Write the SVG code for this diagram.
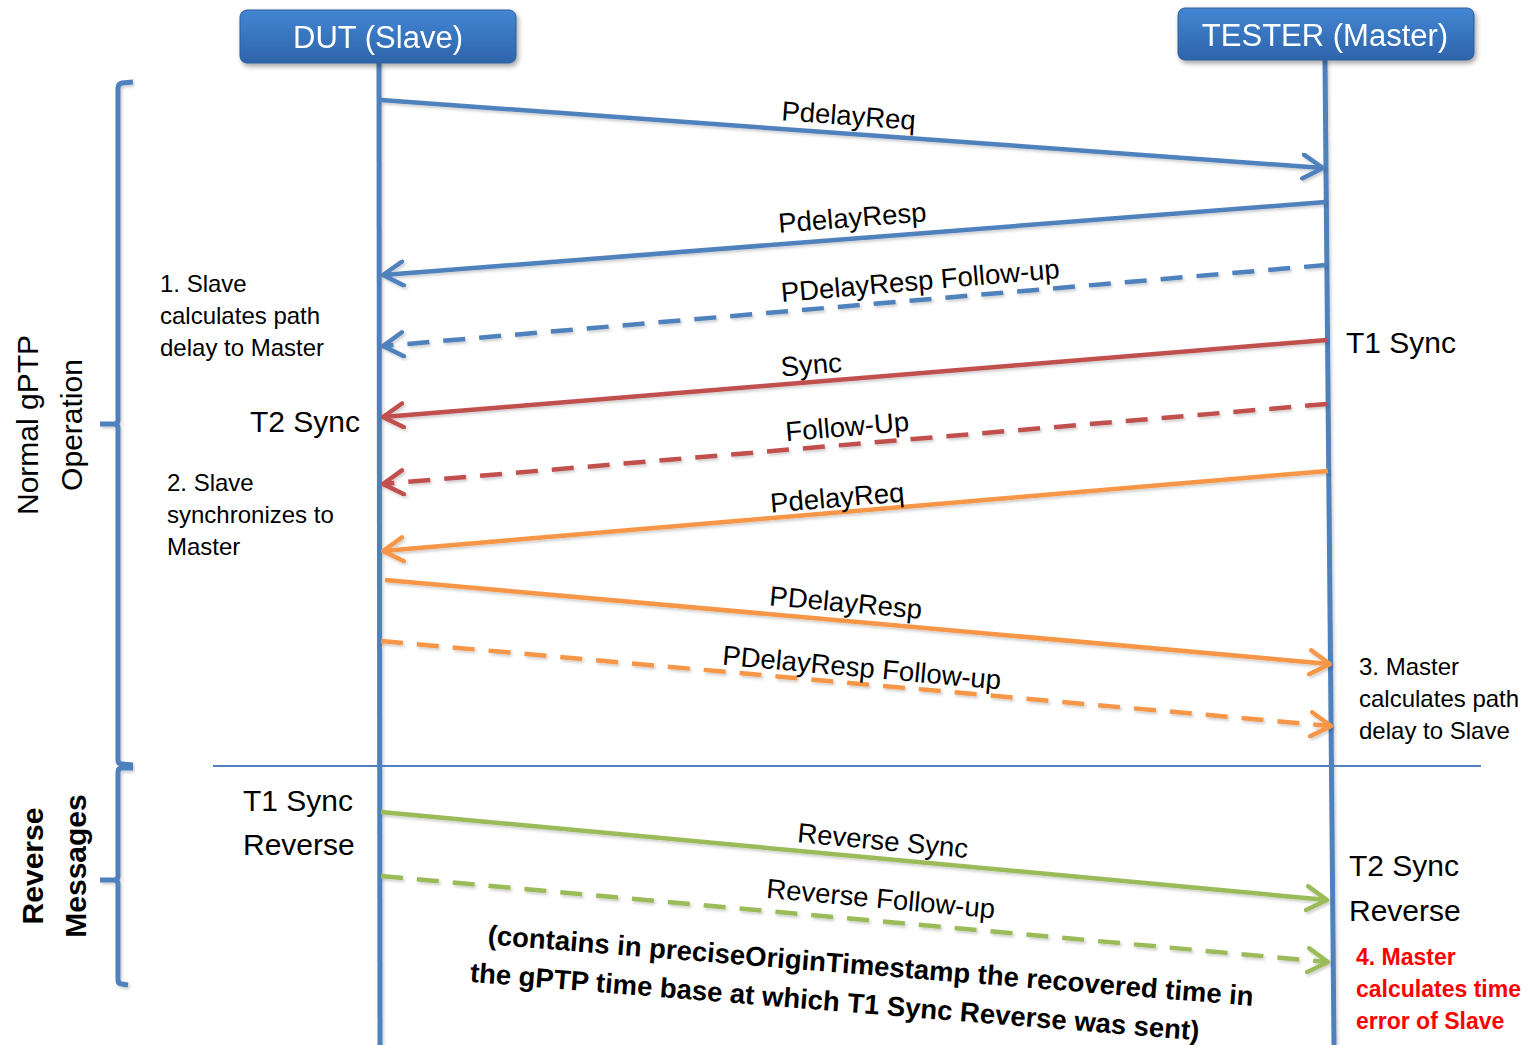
<svg xmlns="http://www.w3.org/2000/svg" width="1533" height="1045" viewBox="0 0 1533 1045">
<style>
.t{font-family:"Liberation Sans",Arial,sans-serif;fill:#000}
.hdr{font-family:"Liberation Sans",Arial,sans-serif;fill:#fff;font-size:31px;text-anchor:middle}
.lbl{font-size:27.5px;text-anchor:middle}
.note{font-size:24px}
.big{font-size:30px}
.life{stroke:#4F81BD;stroke-width:5;fill:none}
.brk{stroke:#4F81BD;stroke-width:5;fill:none;stroke-linejoin:round}
.m{stroke-width:4.5;fill:none}
.dash{stroke-dasharray:22 14}
.blue{stroke:#4F81BD}
.red{stroke:#C0504D}
.orange{stroke:#F79646}
.green{stroke:#9BBB59}
</style>
<defs>
<linearGradient id="hg" x1="0" y1="0" x2="0" y2="1">
<stop offset="0" stop-color="#4386D3"/>
<stop offset="1" stop-color="#2D64AA"/>
</linearGradient>
<filter id="sh" x="-10%" y="-20%" width="120%" height="160%">
<feDropShadow dx="2" dy="3" stdDeviation="2.5" flood-color="#000" flood-opacity="0.35"/>
</filter>
<filter id="ls" x="-5%" y="-50%" width="110%" height="200%">
<feDropShadow dx="1.5" dy="2" stdDeviation="1.5" flood-color="#000" flood-opacity="0.2"/>
</filter>
<marker id="ab" viewBox="0 0 12 14" refX="11" refY="7" markerWidth="24" markerHeight="28" markerUnits="userSpaceOnUse" orient="auto"><path d="M1,1 L11,7 L1,13" fill="none" stroke="#4F81BD" stroke-width="2.2" stroke-linecap="round" stroke-linejoin="round"/></marker>
<marker id="ar" viewBox="0 0 12 14" refX="11" refY="7" markerWidth="24" markerHeight="28" markerUnits="userSpaceOnUse" orient="auto"><path d="M1,1 L11,7 L1,13" fill="none" stroke="#C0504D" stroke-width="2.2" stroke-linecap="round" stroke-linejoin="round"/></marker>
<marker id="ao" viewBox="0 0 12 14" refX="11" refY="7" markerWidth="24" markerHeight="28" markerUnits="userSpaceOnUse" orient="auto"><path d="M1,1 L11,7 L1,13" fill="none" stroke="#F79646" stroke-width="2.2" stroke-linecap="round" stroke-linejoin="round"/></marker>
<marker id="ag" viewBox="0 0 12 14" refX="11" refY="7" markerWidth="24" markerHeight="28" markerUnits="userSpaceOnUse" orient="auto"><path d="M1,1 L11,7 L1,13" fill="none" stroke="#9BBB59" stroke-width="2.2" stroke-linecap="round" stroke-linejoin="round"/></marker>
</defs>
<rect width="1533" height="1045" fill="#fff"/>

<g id="lifelines" filter="url(#ls)">
<line class="life" x1="379" y1="62" x2="380" y2="1045"/>
<line class="life" x1="1325" y1="60" x2="1334" y2="1045"/>
</g>

<g id="dut" filter="url(#sh)">
<rect x="240" y="10" width="276" height="53" rx="7" fill="url(#hg)" stroke="#2E5C96" stroke-width="1"/>
<text class="hdr" x="378" y="48">DUT (Slave)</text>
</g>
<g id="tester" filter="url(#sh)">
<rect x="1178" y="8" width="296" height="52" rx="7" fill="url(#hg)" stroke="#2E5C96" stroke-width="1"/>
<text class="hdr" x="1325" y="46">TESTER (Master)</text>
</g>

<g id="brackets" filter="url(#ls)">
<path class="brk" d="M133,82 L122,83 Q118,84 118,88 L118,420 Q118,424 114,424 L100,424 M114,424 Q118,424 118,428 L118,760 Q118,764 122,764 L133,765"/>
<path class="brk" d="M133,768 L122,768 Q118,768 118,772 L118,876 Q118,880 114,880 L100,880 M114,880 Q118,880 118,884 L118,980 Q118,984 122,984 L128,985"/>
</g>
<line id="separator" x1="213" y1="766" x2="1481" y2="766" stroke="#4F81BD" stroke-width="2"/>

<g id="connectors" filter="url(#ls)">
<line class="m blue" x1="381" y1="100" x2="1323" y2="168" marker-end="url(#ab)"/>
<line class="m blue" x1="1326" y1="202" x2="383" y2="275" marker-end="url(#ab)"/>
<line class="m blue dash" x1="1326" y1="265" x2="383" y2="346" marker-end="url(#ab)"/>
<line class="m red" x1="1327" y1="340" x2="383" y2="417" marker-end="url(#ar)"/>
<line class="m red dash" x1="1327" y1="404" x2="383" y2="484" marker-end="url(#ar)"/>
<line class="m orange" x1="1328" y1="471" x2="383" y2="551" marker-end="url(#ao)"/>
<line class="m orange" x1="385" y1="580" x2="1330" y2="664" marker-end="url(#ao)"/>
<line class="m orange dash" x1="381" y1="641" x2="1331" y2="726" marker-end="url(#ao)"/>
<line class="m green" x1="381" y1="812" x2="1327" y2="900" marker-end="url(#ag)"/>
<line class="m green dash" x1="381" y1="876" x2="1328" y2="962" marker-end="url(#ag)"/>
</g>

<g id="labels">
<text class="t lbl" x="848" y="125" transform="rotate(4.12 848 125)">PdelayReq</text>
<text class="t lbl" x="853" y="227" transform="rotate(-4.42 853 227)">PdelayResp</text>
<text class="t lbl" x="921" y="290" transform="rotate(-4.9 921 290)">PDelayResp Follow-up</text>
<text class="t lbl" x="812" y="374" transform="rotate(-4.66 812 374)">Sync</text>
<text class="t lbl" x="848" y="436" transform="rotate(-4.84 848 436)">Follow-Up</text>
<text class="t lbl" x="838" y="507" transform="rotate(-4.83 838 507)">PdelayReq</text>
<text class="t lbl" x="845" y="612" transform="rotate(5.07 845 612)">PDelayResp</text>
<text class="t lbl" x="861" y="677" transform="rotate(5.1 861 677)">PDelayResp Follow-up</text>
<text class="t lbl" x="882" y="850" transform="rotate(5.31 882 850)">Reverse Sync</text>
<text class="t lbl" x="880" y="908" transform="rotate(5.19 880 908)">Reverse Follow-up</text>
</g>

<g id="notes">
<text class="t note" x="160" y="292">1. Slave</text>
<text class="t note" x="160" y="324">calculates path</text>
<text class="t note" x="160" y="356">delay to Master</text>
<text class="t big" x="250" y="432">T2 Sync</text>
<text class="t note" x="167" y="491">2. Slave</text>
<text class="t note" x="167" y="523">synchronizes to</text>
<text class="t note" x="167" y="555">Master</text>
<text class="t big" x="1346" y="353">T1 Sync</text>
<text class="t note" x="1359" y="675">3. Master</text>
<text class="t note" x="1359" y="707">calculates path</text>
<text class="t note" x="1359" y="739">delay to Slave</text>
<text class="t big" x="243" y="811">T1 Sync</text>
<text class="t big" x="243" y="855">Reverse</text>
<text class="t big" x="1349" y="876">T2 Sync</text>
<text class="t big" x="1349" y="921">Reverse</text>
<text class="t" x="1356" y="965" font-size="23" style="fill:#FF0000;font-weight:bold">4. Master</text>
<text class="t" x="1356" y="997" font-size="23" style="fill:#FF0000;font-weight:bold">calculates time</text>
<text class="t" x="1356" y="1029" font-size="23" style="fill:#FF0000;font-weight:bold">error of Slave</text>
<text class="t big" x="0" y="0" text-anchor="middle" transform="translate(38 425) rotate(-90)">Normal gPTP</text>
<text class="t big" x="0" y="0" text-anchor="middle" transform="translate(82 425) rotate(-90)">Operation</text>
<text class="t big" x="0" y="0" text-anchor="middle" font-weight="bold" transform="translate(43 866) rotate(-90)">Reverse</text>
<text class="t big" x="0" y="0" text-anchor="middle" font-weight="bold" transform="translate(86 866) rotate(-90)">Messages</text>
<text class="t" x="870" y="975" text-anchor="middle" font-weight="bold" font-size="27.5" transform="rotate(4.6 870 975)">(contains in preciseOriginTimestamp the recovered time in</text>
<text class="t" x="834" y="1011" text-anchor="middle" font-weight="bold" font-size="27.5" transform="rotate(4.6 834 1011)">the gPTP time base at which T1 Sync Reverse was sent)</text>
</g>
</svg>
